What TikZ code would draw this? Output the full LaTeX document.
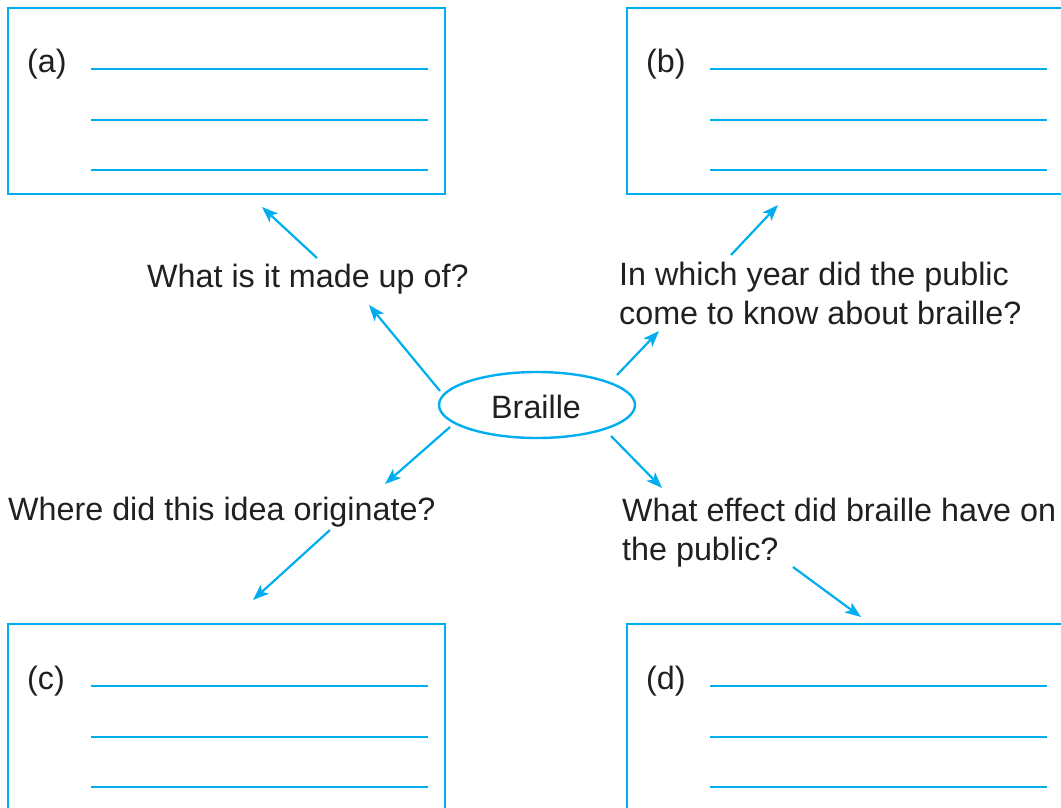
\documentclass[tikz,border=0pt]{standalone}
\usepackage{fontspec}
\setmainfont{Liberation Sans}
\usetikzlibrary{arrows.meta,shapes.geometric}
\definecolor{cy}{HTML}{00AEEF}
\definecolor{ink}{HTML}{231F20}
\tikzset{
  box/.style={draw=cy, line width=1.6pt},
  rule/.style={draw=cy, line width=2.4pt},
  arr/.style={draw=cy, line width=2.2pt, -{Stealth[length=16pt,width=12pt,inset=4pt]}},
  txt/.style={inner sep=0pt, anchor=base west, text=ink, font=\fontsize{32.3}{39}\selectfont},
}
\begin{document}
\begin{tikzpicture}[x=1pt,y=-1pt]
\useasboundingbox (0,0) rectangle (1061,807);
\clip (0,0) rectangle (1061,807);
% boxes
\draw[box] (8,8) rectangle (445,194);
\draw[box] (627,8) rectangle (1080,194);
\draw[box] (8,624) rectangle (445,830);
\draw[box] (627,624) rectangle (1080,830);
\foreach \y in {69,120,170} {
  \draw[rule] (91,\y) -- (428,\y);
  \draw[rule] (710,\y) -- (1047,\y);
}
\foreach \y in {686,737,787} {
  \draw[rule] (91,\y) -- (428,\y);
  \draw[rule] (710,\y) -- (1047,\y);
}
\node[txt] (la) at (27,72) {(a)};
\node[txt] (lb) at (646,72) {(b)};
\node[txt] (lc) at (27,689) {(c)};
\node[txt] (ld) at (646,689) {(d)};
% centre
\node[draw=cy, line width=2.4pt, ellipse, minimum width=196pt, minimum height=66pt, inner sep=0pt] (br) at (537,405) {};
\node[txt] (brt) at (491,418) {Braille};
% questions
\node[txt] (q1) at (147,287) {What is it made up of?};
\node[txt] (q2a) at (619,285) {In which year did the public};
\node[txt] (q2b) at (619,324) {come to know about braille?};
\node[txt] (q3) at (8,520) {Where did this idea originate?};
\node[txt] (q4a) at (622,521) {What effect did braille have on};
\node[txt] (q4b) at (622,560) {the public?};
% arrow end points
\coordinate (s1) at (317,258); \coordinate (e1) at (262,207);
\coordinate (s2) at (440,391); \coordinate (e2) at (369,305);
\coordinate (s3) at (617,375); \coordinate (e3) at (659,331);
\coordinate (s4) at (731,255); \coordinate (e4) at (778,205);
\coordinate (s5) at (450,427); \coordinate (e5) at (385,484);
\coordinate (s6) at (330,530); \coordinate (e6) at (253,600);
\coordinate (s7) at (611,436); \coordinate (e7) at (662,488);
\coordinate (s8) at (793,567); \coordinate (e8) at (861,617);
\foreach \i in {1,...,8} { \draw[arr] (s\i) -- (e\i); }
\end{tikzpicture}
\end{document}
